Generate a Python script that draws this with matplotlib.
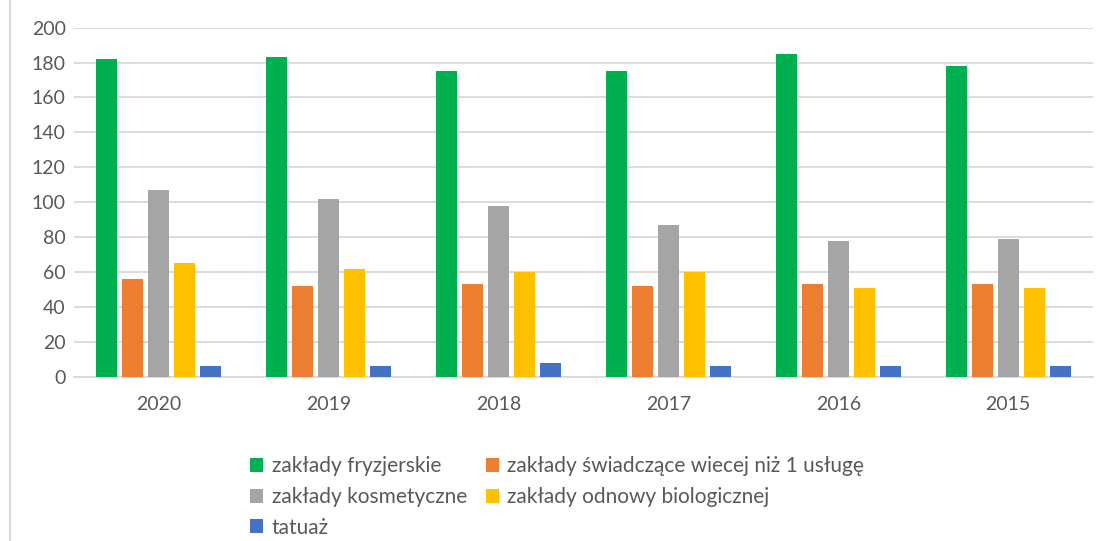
import matplotlib
matplotlib.use("Agg")
import matplotlib.pyplot as plt
from matplotlib.lines import Line2D
from matplotlib.patches import Patch
import numpy as np

plt.rcParams['font.family'] = ['Lato', 'DejaVu Sans']

years = ["2020", "2019", "2018", "2017", "2016", "2015"]
series_names = ["zakłady fryzjerskie", "zakłady świadczące wiecej niż 1 usługę",
                "zakłady kosmetyczne", "zakłady odnowy biologicznej", "tatuaż"]
fryzjerskie = [182, 183, 175, 175, 185, 178]
swiadczace = [56, 52, 53, 52, 53, 53]
kosmetyczne = [107, 102, 98, 87, 78, 79]
odnowy = [65, 62, 60, 60, 51, 51]
tatuaz = [6, 6, 8, 6, 6, 6]
colors = ["#00B050", "#ED7D31", "#A5A5A5", "#FFC000", "#4472C4"]

data = [fryzjerskie, swiadczace, kosmetyczne, odnowy, tatuaz]

fig = plt.figure(figsize=(11, 5.41), dpi=100)
ax = fig.add_axes([0.0673, 0.3037, 0.9263, 0.6451])

x = np.arange(len(years))
slot = 0.153
width = 0.1235
handles = []
for i, (vals, name, c) in enumerate(zip(data, series_names, colors)):
    ax.bar(x + (i - 2) * slot, vals, width=width, color=c, zorder=3)
    handles.append(Patch(facecolor=c, label=name))

ax.set_xlim(-0.5, len(years) - 0.5)
ax.set_ylim(0, 200)
ax.set_yticks(np.arange(0, 201, 20))
ax.set_xticks(x)
ax.set_xticklabels(years)
ax.grid(axis='y', color='#D9D9D9', linewidth=1.3, zorder=0)
for s in ['top', 'right', 'left']:
    ax.spines[s].set_visible(False)
ax.spines['bottom'].set_color('#D9D9D9')
ax.spines['bottom'].set_linewidth(1.3)
ax.tick_params(axis='both', length=0, labelsize=14, colors='#595959')
ax.tick_params(axis='x', pad=14)
ax.tick_params(axis='y', pad=6)

order = [0, 2, 4, 1, 3]
leg = fig.legend([handles[k] for k in order], [series_names[k] for k in order],
                 ncol=2, loc='upper left', bbox_to_anchor=(0.227, 0.157),
                 frameon=False, fontsize=15, handlelength=0.65, handleheight=0.65,
                 handletextpad=0.4, columnspacing=0.9, labelspacing=0.52,
                 borderpad=0, borderaxespad=0)
for t in leg.get_texts():
    t.set_color('#595959')

fig.add_artist(Line2D([0.0095, 0.0095], [0, 1], transform=fig.transFigure,
                      color='#D9D9D9', linewidth=1.5))

fig.savefig("out.png", dpi=100)
